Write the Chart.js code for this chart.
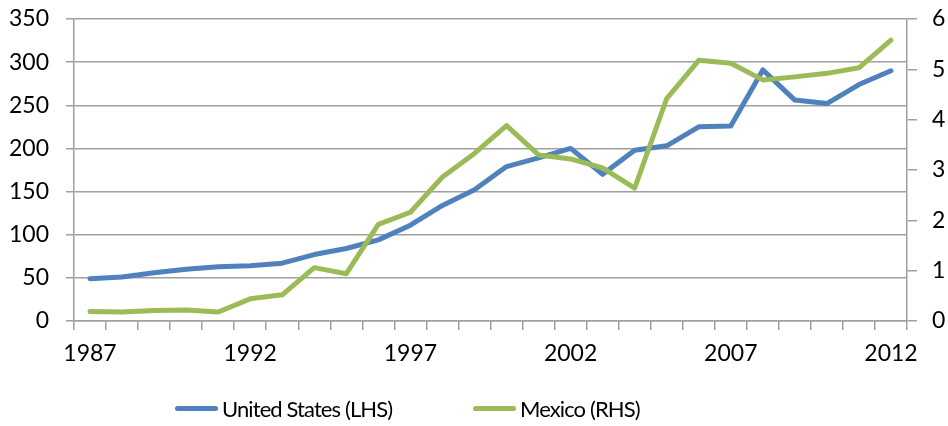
<!DOCTYPE html>
<html>
<head>
<meta charset="utf-8">
<script src="https://cdn.jsdelivr.net/npm/chart.js@4.4.1/dist/chart.umd.min.js"></script>
<style>
    html, body { margin: 0; padding: 0; background: #fff; }
    #wrap { position: relative; width: 948px; height: 426px; }
    #legend {
        position: absolute; left: 0; right: 0; top: 392px; height: 32px;
        font-family: Lato, sans-serif; font-size: 22px; letter-spacing: -0.9px; color: #000;
    }
    .item { position: absolute; top: 0; height: 32px; display: flex; align-items: center; white-space: nowrap; }
    .swatch { width: 43px; height: 5px; border-radius: 3px; margin-right: 4px; }
</style>
</head>
<body>
<div id="wrap">
    <canvas id="chart" width="948" height="426"></canvas>
    <div id="legend"></div>
</div>
<script>
const years = ['1987', '1988', '1989', '1990', '1991', '1992', '1993', '1994', '1995', '1996', '1997', '1998', '1999',
               '2000', '2001', '2002', '2003', '2004', '2005', '2006', '2007', '2008', '2009', '2010', '2011', '2012'];
const unitedStates = [49, 51, 56, 60, 63, 64, 67, 77, 84, 94, 111, 134, 152,
                      179, 189, 200, 170, 198, 203, 225, 226, 291, 256, 252, 274, 290];
const mexico = [0.19, 0.18, 0.21, 0.22, 0.18, 0.44, 0.52, 1.06, 0.94, 1.92, 2.16, 2.86, 3.33,
                3.88, 3.30, 3.22, 3.04, 2.64, 4.42, 5.18, 5.12, 4.79, 4.85, 4.92, 5.03, 5.58];
const leftTicks = [0, 50, 100, 150, 200, 250, 300, 350];
const rightTicks = [0, 1, 2, 3, 4, 5, 6];
const labeledYears = ['1987', '1992', '1997', '2002', '2007', '2012'];

const gridColor = '#a0a0a0';
const font = { family: 'Lato, sans-serif', size: 23 };

const datasets = [
    { label: 'United States (LHS)', data: unitedStates, yAxisID: 'yL', borderColor: '#4f81bd', order: 2 },
    { label: 'Mexico (RHS)', data: mexico, yAxisID: 'yR', borderColor: '#9bbb59', order: 1 }
];
datasets.forEach(d => {
    d.borderWidth = 5;
    d.pointRadius = 0;
    d.tension = 0;
    d.fill = false;
    d.borderJoinStyle = 'round';
    d.borderCapStyle = 'round';
});

// fixed axis widths, and no extra room for label overflow so padding alone sets the plot top
function fixY(width) {
    return s => { s.width = width; s.paddingTop = 0; s.paddingBottom = 0; };
}

new Chart(document.getElementById('chart'), {
    type: 'line',
    data: { labels: years, datasets: datasets },
    options: {
        responsive: false,
        animation: false,
        layout: { padding: { top: 19, bottom: 60, left: 0, right: 0 } },
        plugins: { legend: { display: false }, tooltip: { enabled: false } },
        scales: {
            x: {
                type: 'category',
                offset: true,
                afterFit: s => { s.height = 45; },
                grid: { offset: true, drawOnChartArea: false, tickLength: 9, color: gridColor, lineWidth: 1.5 },
                border: { color: gridColor, width: 1.5 },
                ticks: {
                    autoSkip: false, maxRotation: 0, minRotation: 0, padding: 10, color: '#000', font: font,
                    callback: function (v) { const l = this.getLabelForValue(v); return labeledYears.includes(l) ? l : ''; }
                }
            },
            yL: {
                position: 'left',
                min: leftTicks[0], max: leftTicks[leftTicks.length - 1],
                afterFit: fixY(74),
                afterBuildTicks: s => { s.ticks = leftTicks.map(v => ({ value: v })); },
                grid: { tickLength: 8, color: gridColor, lineWidth: 1.5 },
                border: { color: gridColor, width: 1.5 },
                ticks: { padding: 17, color: '#000', font: font }
            },
            yR: {
                position: 'right',
                min: rightTicks[0], max: rightTicks[rightTicks.length - 1],
                afterFit: fixY(41),
                afterBuildTicks: s => { s.ticks = rightTicks.map(v => ({ value: v })); },
                grid: { drawOnChartArea: false, tickLength: 10, color: gridColor, lineWidth: 1.5 },
                border: { color: gridColor, width: 1.5 },
                ticks: { padding: 15, color: '#000', font: font }
            }
        }
    }
});

// legend items placed where the original puts them
const legendLeft = [175, 473];
const legend = document.getElementById('legend');
datasets.forEach((d, i) => {
    const item = document.createElement('div');
    item.className = 'item';
    item.style.left = legendLeft[i] + 'px';
    item.innerHTML = `<span class="swatch" style="background:${d.borderColor}"></span><span>${d.label}</span>`;
    legend.appendChild(item);
});
</script>
</body>
</html>
